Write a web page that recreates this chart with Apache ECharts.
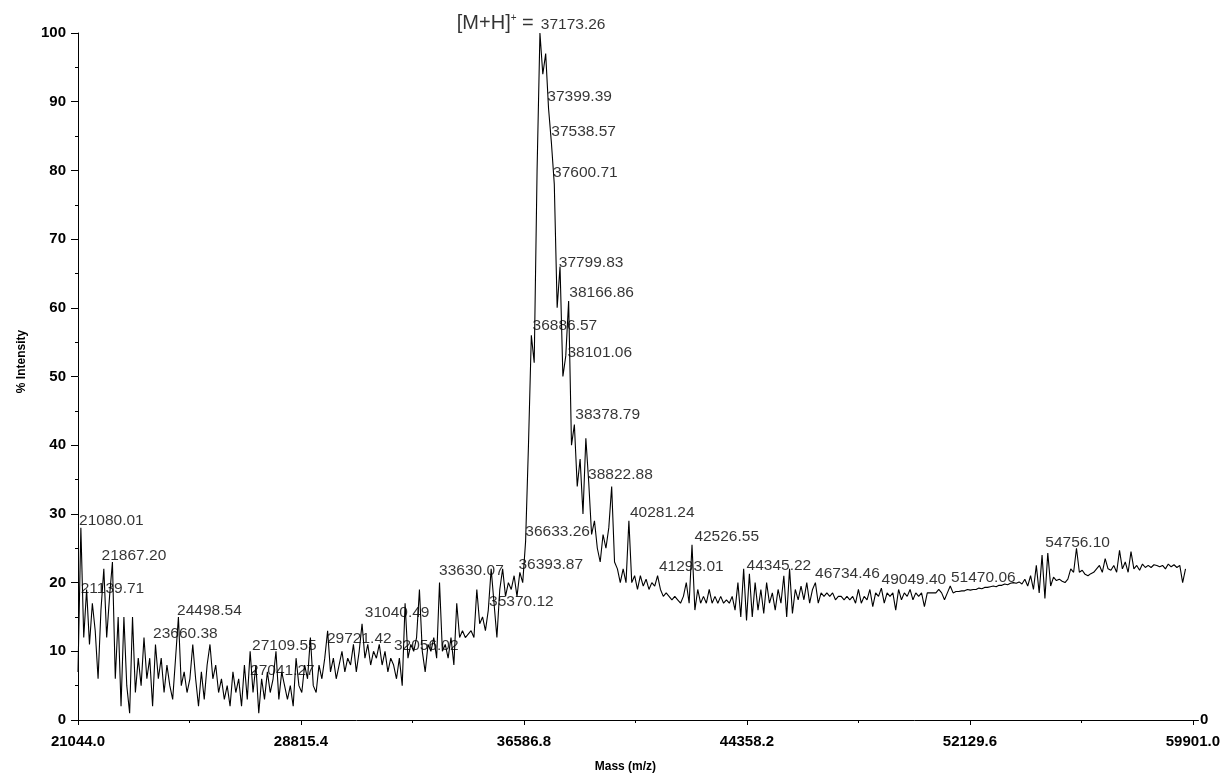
<!DOCTYPE html>
<html>
<head>
<meta charset="utf-8">
<title>Mass spectrum</title>
<script src="https://cdn.jsdelivr.net/npm/echarts@6/dist/echarts.min.js"></script>
<style>
  html, body { margin: 0; padding: 0; background: #fff; }
  #main { width: 1223px; height: 778px; }
</style>
</head>
<body>
<!-- 为ECharts准备一个具备大小（宽高）的Dom -->
<div id="main"></div>
<script>
// spectrum is sampled every 100 Da starting at 21044
var massStart = 21044
var massStep = 100
var intensity = [
  7, 28, 12, 19, 11, 17, 13, 6, 16, 22, 12, 18, 23, 6, 15,
  2, 15, 5, 1, 15, 4, 9, 5, 12, 6, 9, 2, 11, 6,
  9, 4, 8, 5, 3, 9, 15, 5, 7, 4, 6, 11, 6, 2,
  7, 3, 8, 11, 6, 8, 4, 6, 3, 5, 2, 7, 4, 6, 2, 8, 3,
  10, 4, 8, 1, 6, 3, 7, 4, 6, 10, 3, 7, 5, 3, 5, 2, 9, 5,
  4, 8, 6, 12, 5, 4, 8, 6, 9, 13, 7, 9, 6, 8,
  10, 7, 9, 8, 11, 7, 10, 14, 9, 11, 8, 10, 9, 11, 8, 10, 7, 9, 8, 6, 9,
  5, 17, 9, 11, 10, 12, 19, 10, 7, 11, 10, 12, 9, 20, 10, 11, 9, 12, 8, 17, 12,
  13, 12, 12.5, 13, 12, 19, 14, 15, 13, 16, 22, 17, 12, 19, 22, 18, 20, 19, 21, 18, 21.5,
  20, 26, 40, 56, 52, 80, 100, 94, 97,
  89, 84, 78, 60, 66, 50, 53, 61, 40, 43, 34, 38, 30, 41, 34.6, 27, 29, 25, 23, 27, 25, 28, 34,
  23, 22, 20, 22, 20, 29, 20, 21, 19, 21, 19.5, 20.5, 19, 20, 19.5, 21, 19, 18, 18.5, 18, 17.5,
  18, 17.5, 17, 18, 20, 17, 25.5, 16, 19, 17, 18, 17, 19, 17, 18, 17, 18, 17, 17.5, 17, 18,
  16, 20, 15, 22, 14.5, 21.3, 15, 20, 16, 19, 15.5, 20, 17, 18.5, 16, 19, 17, 21, 15, 22,
  15.5, 19, 17.5, 19.5, 17.5, 20, 17, 19, 20, 17, 18.5, 18, 18.5, 18, 18.5, 17.5, 18, 18, 17.5, 18,
  17.5, 18, 17, 19, 17, 18, 17.5, 19, 16.5, 18.5, 18, 19.2, 17, 18.5, 18, 18.5, 16, 19, 17.5, 18.5,
  18, 19, 17.5, 18.5, 18, 18.5, 16.5, 18.5, 18.5, 18.5, 18.5, 19, 18.5, 17.5, 18.5, 19.5,
  18.5, 18.7, 18.7, 18.8, 18.8, 19, 18.9, 19, 19, 19.2, 19.1, 19.3, 19.3, 19.4, 19.5, 19.4,
  19.6, 19.6, 19.8, 19.7, 19.9, 20, 19.9, 20.1, 19.8, 20.5, 19.5, 21, 19, 22.5, 18.5, 24, 17.7, 24.3,
  19.5, 20.8, 20.3, 20.5, 20.2, 20, 20.5, 22, 21.5, 25, 21.5, 21.8, 21.2, 21, 21.3, 21.5, 22,
  22.5, 21.5, 23.5, 22, 21.8, 22.5, 21.5, 24.7, 22, 23, 21.5, 24.5, 22, 22.5, 21.8, 22.7,
  22.2, 22.5, 22.2, 22.6, 22.5, 22.3, 22.5, 22, 22.7, 22.3, 22.6, 22.2, 22.5, 20, 22
]

// labelled peaks (mass, height of the label)
var peakMasses = [
  21080.01, 21139.71, 21867.20, 23660.38, 24498.54, 27041.27, 27109.55, 29721.42,
  31040.49, 32056.02, 33630.07, 35370.12, 36393.87, 36633.26, 36886.57, 37173.26,
  37399.39, 37538.57, 37600.71, 37799.83, 38101.06, 38166.86, 38378.79, 38822.88,
  40281.24, 41293.01, 42526.55, 44345.22, 46734.46, 49049.40, 51470.06, 54756.10
]
var peakHeights = [
  27.9, 18, 22.7, 11.4, 14.8, 6.0, 9.6, 10.6,
  14.4, 9.6, 20.5, 16, 21.5, 26.2, 56.2, 100,
  89.5, 84.4, 78.5, 65.4, 52.3, 61, 43.2, 34.6,
  29, 21.1, 25.5, 21.3, 20.1, 19.2, 19.5, 24.7
]
var basePeak = 37173.26

var xTicks = [21044.0, 28815.4, 36586.8, 44358.2, 52129.6, 59901.0]
var xMinorTicks = [24929.7, 32701.1, 40472.5, 48243.9, 56015.3]
var xMin = 21044.0
var xMax = 59901.0

var spectrum = intensity.map(function (v, i) {
  return [massStart + i * massStep, v]
})
var peaks = peakMasses.map(function (m, i) {
  return [m, peakHeights[i]]
})

var font = '"Liberation Sans", Arial, Helvetica, sans-serif'

var myChart = echarts.init(document.getElementById('main'))

var option = {
  animation: false,
  backgroundColor: '#fff',
  grid: { left: 78, right: 28, top: 33, bottom: 58 },
  xAxis: [
    {
      type: 'value',
      min: xMin,
      max: xMax,
      name: 'Mass (m/z)',
      nameLocation: 'middle',
      nameGap: 41,
      nameTextStyle: { fontFamily: font, fontWeight: 'bold', fontSize: 12, color: '#000', padding: [0, 20, 0, 0] },
      axisLine: { lineStyle: { color: '#000', width: 1 } },
      axisTick: { show: true, length: 5, customValues: xTicks, lineStyle: { color: '#000' } },
      axisLabel: {
        customValues: xTicks,
        margin: 14,
        fontFamily: font,
        fontWeight: 'bold',
        fontSize: 15,
        color: '#000',
        formatter: function (v) { return v.toFixed(1) }
      },
      splitLine: { show: false }
    },
    {
      // small half-way ticks
      type: 'value',
      position: 'bottom',
      min: xMin,
      max: xMax,
      axisLine: { show: false },
      axisTick: { show: true, length: 3, customValues: xMinorTicks, lineStyle: { color: '#000' } },
      axisLabel: { show: false },
      splitLine: { show: false }
    }
  ],
  yAxis: [
    {
      type: 'value',
      min: 0,
      max: 100,
      interval: 10,
      name: '% Intensity',
      nameLocation: 'middle',
      nameGap: 50,
      nameTextStyle: { fontFamily: font, fontWeight: 'bold', fontSize: 12, color: '#000', padding: [0, 0, 0, 30] },
      axisLine: { show: true, lineStyle: { color: '#000', width: 1 } },
      axisTick: { show: true, length: 7, lineStyle: { color: '#000' } },
      minorTick: { show: true, splitNumber: 2, length: 3, lineStyle: { color: '#000' } },
      axisLabel: { margin: 12, fontFamily: font, fontWeight: 'bold', fontSize: 15, color: '#000' },
      splitLine: { show: false }
    },
    {
      type: 'value',
      position: 'right',
      min: 0,
      max: 100,
      axisLine: { show: false },
      axisTick: { show: true, length: 6, customValues: [0], lineStyle: { color: '#000' } },
      axisLabel: { customValues: [0], margin: 7, fontFamily: font, fontWeight: 'bold', fontSize: 15, color: '#000' },
      splitLine: { show: false }
    }
  ],
  series: [
    {
      type: 'line',
      data: spectrum,
      showSymbol: false,
      symbol: 'none',
      sampling: null,
      lineStyle: { color: '#000', width: 1.1 },
      z: 2
    },
    {
      // peak labels: text starts at the peak and sits on its top
      type: 'scatter',
      data: peaks,
      symbolSize: 0,
      silent: true,
      clip: false,
      label: {
        show: true,
        position: [0, 0],
        align: 'left',
        verticalAlign: 'bottom',
        fontFamily: font,
        fontSize: 15.5,
        color: '#000',
        formatter: function (p) { return p.value[0].toFixed(2) }
      },
      z: 3
    },
    {
      // [M+H]+ prefix in front of the base peak label
      type: 'scatter',
      data: [[basePeak, 100]],
      symbolSize: 0,
      silent: true,
      clip: false,
      label: {
        show: true,
        position: [0, 0],
        align: 'right',
        verticalAlign: 'bottom',
        padding: [0, 7, 0, 0],
        formatter: '{a|[M+H]}{s|+}{a| =}',
        rich: {
          a: { fontFamily: font, fontSize: 20, color: '#000' },
          s: { fontFamily: font, fontSize: 10, color: '#000', verticalAlign: 'top', padding: [0, 0, 8, 0] }
        }
      },
      z: 3
    }
  ]
}

myChart.setOption(option)
</script>
</body>
</html>
